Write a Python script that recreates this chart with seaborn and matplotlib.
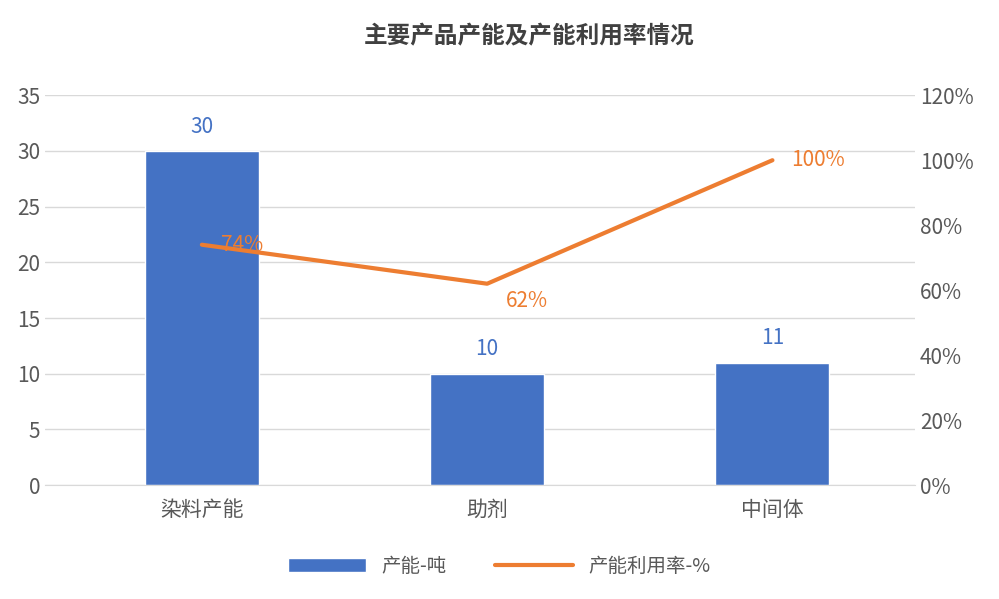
import matplotlib
matplotlib.use("Agg")
import matplotlib.pyplot as plt
import seaborn as sns
import pandas as pd

categories = ["染料产能", "助剂", "中间体"]
capacity = [30, 10, 11]
utilization = [74, 62, 100]

sns.set_style("white")
plt.rcParams['font.family'] = ['Noto Sans CJK SC', 'DejaVu Sans']

fig = plt.figure(figsize=(9.99, 5.99), dpi=100)
ax = fig.add_axes([0.045, 0.19, 0.871, 0.651])
df = pd.DataFrame({"cat": categories, "cap": capacity, "util": utilization})
sns.barplot(data=df, x="cat", y="cap", color="#4472C4", width=0.4, ax=ax, saturation=1, label="产能-吨")
ax.set_ylim(0, 35)
ax.set_yticks(range(0, 36, 5))
ax.yaxis.grid(True, color="#D9D9D9", lw=1)
ax.set_axisbelow(True)
for s in ax.spines.values():
    s.set_visible(False)
ax.spines['bottom'].set_visible(True)
ax.spines['bottom'].set_color("#D9D9D9")
ax.set_xlabel(""); ax.set_ylabel("")
ax.tick_params(axis='both', length=0, labelsize=15, colors="#595959")
ax.tick_params(axis='x', pad=10)
for i, v in enumerate(capacity):
    ax.text(i, v + 1.2, str(v), ha="center", va="bottom", fontsize=15, color="#4472C4")

ax2 = ax.twinx()
sns.lineplot(x=list(range(3)), y=utilization, color="#ED7D31", lw=3, ax=ax2, label="产能利用率-%")
ax2.set_ylim(0, 120)
ax2.set_yticks(range(0, 121, 20))
ax2.set_yticklabels([f"{v}%" for v in range(0, 121, 20)])
ax2.tick_params(axis='y', length=0, labelsize=15, colors="#595959")
for s in ax2.spines.values():
    s.set_visible(False)
offs = [0.14, 0.14, 0.16]
vas = ["center", "top", "center"]
for i, v in enumerate(utilization):
    dy = -2 if i == 1 else 0
    ax2.text(i + offs[i], v + dy, f"{v}%", ha="center", va=vas[i], fontsize=15, color="#ED7D31")
ax.set_xlim(-0.55, 2.5)

h1, l1 = ax.get_legend_handles_labels()
h2, l2 = ax2.get_legend_handles_labels()
if ax2.get_legend(): ax2.get_legend().remove()
if ax.get_legend(): ax.get_legend().remove()
fig.legend(h1 + h2, l1 + l2, loc="center", bbox_to_anchor=(0.5, 0.055), ncol=2, frameon=False,
           fontsize=14, labelcolor="#595959", handlelength=4, columnspacing=2.5)
fig.text(0.53, 0.94, "主要产品产能及产能利用率情况", ha="center", va="center", fontsize=17,
         fontweight="bold", color="#404040")
fig.savefig("out.png", dpi=100)
